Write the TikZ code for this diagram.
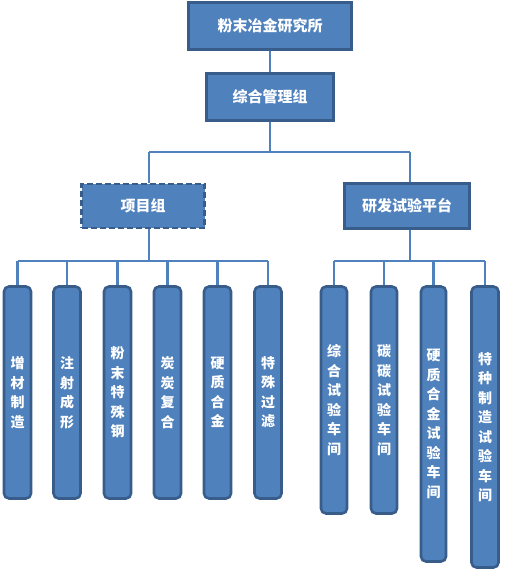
\documentclass[tikz,border=0pt]{standalone}
\usepackage{fontspec}
\setmainfont{Noto Sans CJK SC}
\definecolor{boxfill}{HTML}{4F81BD}
\definecolor{boxline}{HTML}{385D8A}
\definecolor{connc}{HTML}{4F81BD}
\tikzset{
  hbox/.style={draw=boxline, fill=boxfill, line width=2.6pt, text=white,
    font=\fontsize{15}{18}\selectfont\bfseries, inner sep=0pt},
  vbox/.style={draw=boxline, fill=boxfill, line width=2.6pt, text=white,
    rounded corners=5pt, align=center, inner sep=0pt, minimum width=27pt,
    font=\fontsize{14}{19.5}\selectfont\bfseries},
  conn/.style={draw=connc, line width=2.4pt}
}
\begin{document}
\begin{tikzpicture}[x=1pt,y=-1pt]
\useasboundingbox (0,0) rectangle (504,572);
% top level
\node[hbox, minimum width=163pt, minimum height=47pt] (top) at (270,26) {粉末冶金研究所};
\node[hbox, minimum width=127pt, minimum height=47pt] (mg) at (270,97) {综合管理组};
\node[hbox, dashed, dash pattern=on 6pt off 3pt, minimum width=123pt, minimum height=44pt] (proj) at (143,206) {项目组};
\node[hbox, minimum width=125pt, minimum height=45pt] (rd) at (407,206) {研发试验平台};
% left group
\node[vbox, minimum height=212pt] (a1) at (17.5,392.5) {增\\材\\制\\造};
\node[vbox, minimum height=212pt] (a2) at (67,392.5) {注\\射\\成\\形};
\node[vbox, minimum height=212pt] (a3) at (117.5,392.5) {粉\\末\\特\\殊\\钢};
\node[vbox, minimum height=212pt] (a4) at (167.5,392.5) {炭\\炭\\复\\合};
\node[vbox, minimum height=212pt] (a5) at (217.5,392.5) {硬\\质\\合\\金};
\node[vbox, minimum height=212pt] (a6) at (268,392.5) {特\\殊\\过\\滤};
% right group
\node[vbox, minimum width=26pt, minimum height=227pt] (b1) at (334,400) {综\\合\\试\\验\\车\\间};
\node[vbox, minimum width=26pt, minimum height=227pt] (b2) at (384,400) {碳\\碳\\试\\验\\车\\间};
\node[vbox, minimum width=25pt, minimum height=275pt] (b3) at (433.5,424) {硬\\质\\合\\金\\试\\验\\车\\间};
\node[vbox, minimum width=27pt, minimum height=281pt] (b4) at (485,427) {特\\种\\制\\造\\试\\验\\车\\间};
% connectors
\coordinate (hL) at (149,152);
\coordinate (hR) at (410,152);
\coordinate (gL) at (149,261);
\coordinate (gR) at (410,261);
\draw[conn] (top.south) -- (mg.north);
\draw[conn] (mg.south) -- (mg.south |- hL);
\draw[conn] (hL) -- (hR);
\draw[conn] (hL) -- (hL |- proj.north);
\draw[conn] (hR) -- (hR |- rd.north);
\draw[conn] (hL |- proj.south) -- (gL);
\draw[conn] (hR |- rd.south) -- (gR);
\draw[conn] (gL -| a1) -- (gL -| a6);
\draw[conn] (gR -| b1) -- (gR -| b4);
\foreach \n in {a1,a2,a3,a4,a5,a6}{\draw[conn] (gL -| \n) -- (\n.north);}
\foreach \n in {b1,b2,b3,b4}{\draw[conn] (gR -| \n) -- (\n.north);}
\end{tikzpicture}
\end{document}
